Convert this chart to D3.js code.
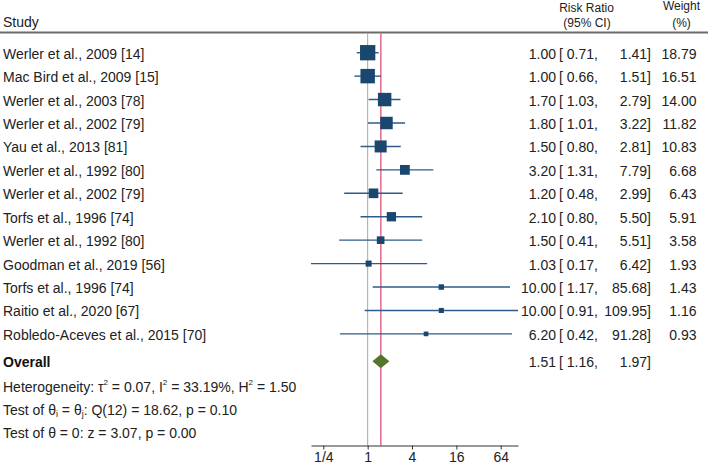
<!DOCTYPE html>
<html><head><meta charset="utf-8">
<script src="https://cdn.jsdelivr.net/npm/d3@7"></script>
<style>
html,body{margin:0;padding:0;background:#fff;}
svg{display:block;font-family:"Liberation Sans",Arial,sans-serif;}
</style></head>
<body>
<svg id="chart" width="708" height="467"></svg>
<script>
const studies = ["Werler et al., 2009 [14]","Mac Bird et al., 2009 [15]","Werler et al., 2003 [78]","Werler et al., 2002 [79]","Yau et al., 2013 [81]","Werler et al., 1992 [80]","Werler et al., 2002 [79]","Torfs et al., 1996 [74]","Werler et al., 1992 [80]","Goodman et al., 2019 [56]","Torfs et al., 1996 [74]","Raitio et al., 2020 [67]","Robledo-Aceves et al., 2015 [70]"];
const rr     = [1.00,1.00,1.70,1.80,1.50,3.20,1.20,2.10,1.50,1.03,10.00,10.00,6.20];
const lower  = [0.71,0.66,1.03,1.01,0.80,1.31,0.48,0.80,0.41,0.17,1.17,0.91,0.42];
const upper  = [1.41,1.51,2.79,3.22,2.81,7.79,2.99,5.50,5.51,6.42,85.68,109.95,91.28];
const weights= [18.79,16.51,14.00,11.82,10.83,6.68,6.43,5.91,3.58,1.93,1.43,1.16,0.93];
const overall = {rr:1.51, lower:1.16, upper:1.97};
const tickValues = [0.25,1,4,16,64];
const tickLabels = ["1/4","1","4","16","64"];

const svg = d3.select("#chart");
const f2 = d3.format(".2f");
const FONT = 14;

const x = d3.scaleLog().base(2).domain([d3.min(lower), d3.max(upper)]).range([311, 518]);
const y = d3.scaleLinear().domain([0, studies.length-1]).range([52.7, 333.9]);
const overallY = 361.3;
const size = d3.scaleSqrt().domain([0, d3.max(weights)]).range([1.67, 15.3]);
const plotTop = 33.5, axisY = 445.5;

// header
svg.append("text").attr("x",3).attr("y",27).attr("font-size",FONT).attr("fill","#222").text("Study");
svg.append("text").attr("x",586.5).attr("y",12).attr("text-anchor","middle").attr("font-size",12).attr("fill","#222").text("Risk Ratio");
svg.append("text").attr("x",587).attr("y",27).attr("text-anchor","middle").attr("font-size",12).attr("fill","#222").text("(95% CI)");
svg.append("text").attr("x",681.5).attr("y",10).attr("text-anchor","middle").attr("font-size",12).attr("fill","#222").text("Weight");
svg.append("text").attr("x",681.5).attr("y",27).attr("text-anchor","middle").attr("font-size",12).attr("fill","#222").text("(%)");
svg.append("line").attr("x1",0).attr("x2",708).attr("y1",32.5).attr("y2",32.5).attr("stroke","#6b6b6b").attr("stroke-width",2);

// reference lines
svg.append("line").attr("x1",x(1)).attr("x2",x(1)).attr("y1",plotTop).attr("y2",axisY).attr("stroke","#a6a6a6").attr("stroke-width",1);
svg.append("line").attr("x1",x(overall.rr)).attr("x2",x(overall.rr)).attr("y1",plotTop).attr("y2",axisY).attr("stroke","#e0527c").attr("stroke-width",1.3);

// CIs and markers
const rows = svg.append("g").selectAll("g").data(studies).join("g");
rows.append("line")
  .attr("x1",(d,i)=>x(lower[i])).attr("x2",(d,i)=>x(upper[i]))
  .attr("y1",(d,i)=>y(i)).attr("y2",(d,i)=>y(i))
  .attr("stroke","#2f5b86").attr("stroke-width",1.4);
rows.append("rect")
  .attr("x",(d,i)=>x(rr[i])-size(weights[i])/2).attr("y",(d,i)=>y(i)-size(weights[i])/2)
  .attr("width",(d,i)=>size(weights[i])).attr("height",(d,i)=>size(weights[i]))
  .attr("fill","#1a476f");
rows.append("text").attr("x",3).attr("y",(d,i)=>y(i)+6).attr("font-size",FONT).attr("fill","#222").text(d=>d);
rows.append("text").attr("x",556).attr("y",(d,i)=>y(i)+6).attr("text-anchor","end").attr("font-size",FONT).attr("fill","#222").text((d,i)=>f2(rr[i]));
rows.append("text").attr("x",559).attr("y",(d,i)=>y(i)+6).attr("font-size",FONT).attr("fill","#222").text((d,i)=>"[ "+f2(lower[i])+",");
rows.append("text").attr("x",651).attr("y",(d,i)=>y(i)+6).attr("text-anchor","end").attr("font-size",FONT).attr("fill","#222").text((d,i)=>f2(upper[i])+"]");
rows.append("text").attr("x",696.5).attr("y",(d,i)=>y(i)+6).attr("text-anchor","end").attr("font-size",FONT).attr("fill","#222").text((d,i)=>f2(weights[i]));

// overall diamond
const dx0 = x(overall.lower), dx1 = x(overall.upper), dxc = x(overall.rr);
svg.append("path").attr("d",`M${dx0},${overallY}L${dxc},${overallY-7}L${dx1},${overallY}L${dxc},${overallY+7}Z`).attr("fill","#55752f");
svg.append("text").attr("x",3).attr("y",overallY+6).attr("font-size",FONT).attr("font-weight","bold").attr("fill","#111").text("Overall");
svg.append("text").attr("x",556).attr("y",overallY+6).attr("text-anchor","end").attr("font-size",FONT).attr("fill","#222").text(f2(overall.rr));
svg.append("text").attr("x",559).attr("y",overallY+6).attr("font-size",FONT).attr("fill","#222").text("[ "+f2(overall.lower)+",");
svg.append("text").attr("x",651).attr("y",overallY+6).attr("text-anchor","end").attr("font-size",FONT).attr("fill","#222").text(f2(overall.upper)+"]");

// stats text
const t1 = svg.append("text").attr("x",3).attr("y",391.7).attr("font-size",FONT).attr("fill","#222");
const sup = (t, s) => t.append("tspan").attr("font-size",8).attr("dy",-7).text(s);
const back = (t, s) => t.append("tspan").attr("dy",7).text(s);
t1.append("tspan").text("Heterogeneity: τ");
sup(t1,"2"); back(t1," = 0.07, I");
sup(t1,"2"); back(t1," = 33.19%, H");
sup(t1,"2"); back(t1," = 1.50");

const t2 = svg.append("text").attr("x",3).attr("y",415).attr("font-size",FONT).attr("fill","#222");
t2.append("tspan").text("Test of θ");
t2.append("tspan").attr("font-size",9).attr("dy",2).text("i");
t2.append("tspan").attr("dy",-2).text(" = θ");
t2.append("tspan").attr("font-size",9).attr("dy",2).text("j");
t2.append("tspan").attr("dy",-2).text(": Q(12) = 18.62, p = 0.10");

svg.append("text").attr("x",3).attr("y",438.3).attr("font-size",FONT).attr("fill","#222").text("Test of θ = 0: z = 3.07, p = 0.00");

// axis
const axis = d3.axisBottom(x).tickValues(tickValues).tickFormat((d,i)=>tickLabels[i]).tickSize(4).tickSizeOuter(0);
const ag = svg.append("g").attr("transform",`translate(0,${axisY})`).call(axis);
ag.select(".domain").attr("stroke","#333");
ag.selectAll(".tick line").attr("stroke","#333");
ag.selectAll(".tick text").attr("font-size",FONT).attr("font-family","'Liberation Sans',Arial,sans-serif").attr("fill","#222");
</script>
</body></html>
